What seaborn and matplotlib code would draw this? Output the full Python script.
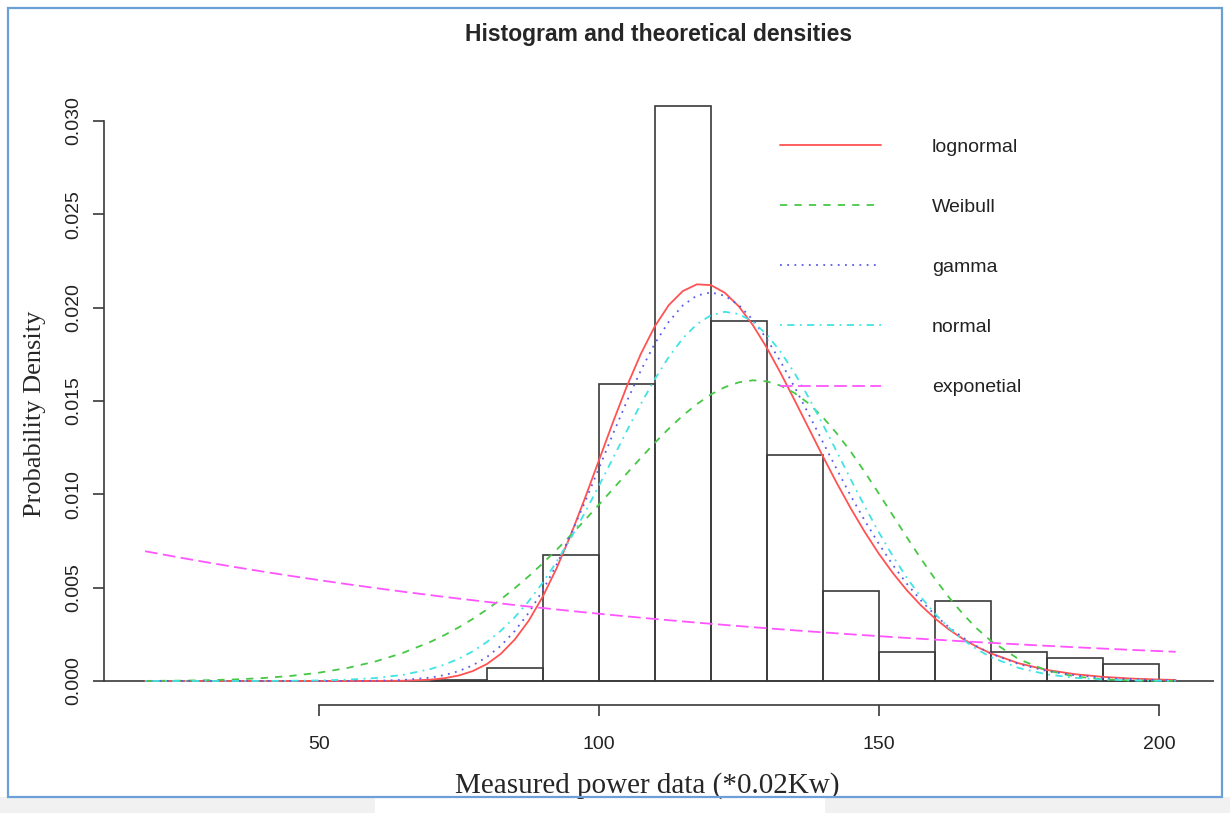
import matplotlib
matplotlib.use("Agg")
import matplotlib.pyplot as plt
from matplotlib.patches import Rectangle
import pandas as pd
import seaborn as sns

################## Dados ##################

# histograma (densidade por classe de largura 10)
bin_edges = [70, 80, 90, 100, 110, 120, 130, 140, 150, 160, 170, 180, 190, 200]
bin_heights = [0.00003, 0.00068, 0.00675, 0.0159, 0.0308, 0.01927, 0.01209,
               0.00482, 0.00154, 0.0043, 0.00157, 0.00122, 0.00091]

# pontos das curvas teoricas
dens_x = [19, 25, 30, 35, 40, 45, 50, 55, 60, 65, 70,
          72.5, 75, 77.5, 80, 82.5, 85, 87.5, 90, 92.5, 95, 97.5, 100,
          102.5, 105, 107.5, 110, 112.5, 115, 117.5, 120, 122.5, 125, 127.5,
          130, 132.5, 135, 137.5, 140, 142.5, 145, 147.5, 150, 152.5, 155,
          157.5, 160, 162.5, 165, 167.5,
          170, 175, 180, 185, 190, 195, 200, 203]

lognormal_y = [0, 0, 0, 0, 0, 0, 0, 0, 0.000002, 0.000013, 0.000073,
               0.000152, 0.000294, 0.000531, 0.000904, 0.001453, 0.002222,
               0.003235, 0.00452, 0.00606, 0.00783, 0.00977, 0.0118,
               0.01384, 0.01578, 0.01752, 0.0190, 0.02014, 0.02089, 0.02125,
               0.02121, 0.0208, 0.02007, 0.01907, 0.01785, 0.01648, 0.01502,
               0.01353, 0.01204, 0.0106, 0.00924, 0.007976, 0.00682,
               0.005784, 0.00486, 0.004056, 0.003357, 0.002762, 0.002257,
               0.001832,
               0.001478, 0.000946, 0.000593, 0.000365, 0.000222, 0.000132,
               0.000078, 0.000056]

weibull_y = [0.000005, 0.000017, 0.00004, 0.000083, 0.000156, 0.000271,
             0.000443, 0.000691, 0.001036, 0.0015, 0.002105,
             0.002468, 0.002874, 0.003327, 0.003825, 0.004372, 0.00497,
             0.005615, 0.006306, 0.007036, 0.00781, 0.008613, 0.00944,
             0.01028, 0.01112, 0.01195, 0.01276, 0.01352, 0.01422, 0.01483,
             0.01535, 0.01574, 0.016, 0.01611, 0.01605, 0.01582, 0.01542,
             0.01486, 0.01413, 0.01326, 0.01228, 0.01119, 0.01004,
             0.008872, 0.0077, 0.006557, 0.00548, 0.004487, 0.003593,
             0.00281,
             0.00215, 0.001163, 0.000564, 0.000241, 0.00009, 0.000029,
             0.000008, 0.000004]

gamma_y = [0, 0, 0, 0, 0, 0, 0, 0.000002, 0.000012, 0.000052, 0.000184,
           0.000319, 0.00053, 0.00084, 0.00128, 0.001883, 0.00268,
           0.003658, 0.004855, 0.006258, 0.00785, 0.009567, 0.01138,
           0.01321, 0.01498, 0.01663, 0.01808, 0.01925, 0.02012, 0.02065,
           0.02082, 0.02064, 0.02014, 0.01935, 0.01832, 0.01709, 0.01572,
           0.01428, 0.0128, 0.01134, 0.00991, 0.008588, 0.00735,
           0.006217, 0.00521, 0.00432, 0.003546, 0.002884, 0.00233,
           0.001857,
           0.00147, 0.000902, 0.000535, 0.000306, 0.000171, 0.000094,
           0.00005, 0.000035]

normal_y = [0, 0, 0, 0.000002, 0.000004, 0.000012, 0.000029, 0.00007,
            0.000155, 0.000326, 0.000643,
            0.000882, 0.001193, 0.001588, 0.002083, 0.002688, 0.003416,
            0.004279, 0.005274, 0.006403, 0.007651, 0.009008, 0.01044,
            0.01192, 0.0134, 0.01484, 0.01617, 0.01736, 0.01836, 0.01911,
            0.01959, 0.01978, 0.01966, 0.01925, 0.01856, 0.01762, 0.01647,
            0.01517, 0.01375, 0.01228, 0.01079, 0.009346, 0.007967,
            0.00669, 0.00553, 0.004502, 0.00361, 0.002853, 0.002217,
            0.001697,
            0.00128, 0.000695, 0.000354, 0.00017, 0.000077, 0.000033,
            0.000013, 0.000008]

expo_y = [0.006952, 0.006622, 0.006358, 0.006106, 0.005863, 0.00563,
          0.005407, 0.005191, 0.004985, 0.004787, 0.004597,
          0.004504, 0.004414, 0.004326, 0.004239, 0.004154, 0.00407,
          0.003989, 0.003909, 0.00383, 0.003753, 0.003678, 0.003604,
          0.003532, 0.003461, 0.003392, 0.003323, 0.003257, 0.003191,
          0.003127, 0.003065, 0.003003, 0.002943, 0.002884, 0.002826,
          0.002769, 0.002713, 0.002659, 0.002606, 0.002553, 0.002502,
          0.002452, 0.002403, 0.002354, 0.002307, 0.002261, 0.002216,
          0.002171, 0.002127, 0.002085,
          0.002043, 0.001962, 0.001884, 0.001809, 0.001737, 0.001668,
          0.001602, 0.001564]

dist_names = ["lognormal", "Weibull", "gamma", "normal", "exponetial"]

################## Montagem da tabela ##################

curvas = pd.DataFrame({
    "x": dens_x * 5,
    "densidade": lognormal_y + weibull_y + gamma_y + normal_y + expo_y,
    "dist": [n for n in dist_names for _ in dens_x],
})

bin_mids = [(a + b) / 2 for a, b in zip(bin_edges[:-1], bin_edges[1:])]

cores = {
    "lognormal": "#ff5252",
    "Weibull": "#46c846",
    "gamma": "#5a5aee",
    "normal": "#40e4e4",
    "exponetial": "#ff55ff",
}
tracos = {
    "lognormal": "",
    "Weibull": (4, 4),
    "gamma": (1, 3),
    "normal": (1, 3, 4, 3),
    "exponetial": (7, 3),
}

################## Grafico ##################

sns.set_style("ticks")
plt.rcParams["font.family"] = ["Liberation Sans", "DejaVu Sans"]

fig = plt.figure(figsize=(12.3, 8.13), dpi=100)
ax = fig.add_axes([104 / 1230, 1 - 705 / 813, 1110 / 1230, 648 / 813])

sns.histplot(x=bin_mids, weights=bin_heights, bins=bin_edges, stat="count",
             fill=False, color="#3a3a3a", linewidth=1.2, ax=ax)

ax.axhline(0, color="#3a3a3a", linewidth=1.2, zorder=1)

sns.lineplot(data=curvas, x="x", y="densidade", hue="dist", style="dist",
             hue_order=dist_names, style_order=dist_names, palette=cores,
             dashes=tracos, linewidth=1.3, legend=False, ax=ax)

linhas = ax.get_lines()[-5:]
ax.legend(linhas, dist_names, loc="upper left",
          bbox_to_anchor=((780 - 104) / 1110, (705 - 138) / 648),
          frameon=False, fontsize=14, handlelength=5.2, handletextpad=2.6,
          labelspacing=2.19, borderpad=0, borderaxespad=0, labelcolor="#222222")

ax.set_xlim(11.66, 209.84)
ax.set_ylim(-0.001286, 0.03343)

ax.set_xticks([50, 100, 150, 200])
ax.set_yticks([0.0, 0.005, 0.010, 0.015, 0.020, 0.025, 0.030])
ax.set_yticklabels(["0.000", "0.005", "0.010", "0.015", "0.020", "0.025", "0.030"],
                   rotation=90, va="center")

ax.spines["left"].set_bounds(0, 0.030)
ax.spines["bottom"].set_bounds(50, 200)
for lado in ["top", "right"]:
    ax.spines[lado].set_visible(False)
for lado in ["left", "bottom"]:
    ax.spines[lado].set_color("#3a3a3a")
    ax.spines[lado].set_linewidth(1.2)

ax.tick_params(axis="both", length=8, width=1.2, color="#3a3a3a",
               labelsize=14, labelcolor="#222222")
ax.tick_params(axis="x", pad=14)
ax.tick_params(axis="y", pad=8)

ax.set_xlabel("Measured power data (*0.02Kw)", fontsize=21,
              family=["Liberation Serif", "DejaVu Serif"])
ax.set_ylabel("Probability Density", fontsize=19,
              family=["Liberation Serif", "DejaVu Serif"])
ax.xaxis.set_label_coords((647 - 104) / 1110, (705 - 786) / 648)
ax.yaxis.set_label_coords((35 - 104) / 1110, (705 - 414) / 648)
ax.xaxis.label.set_va("center")
ax.yaxis.label.set_va("center")

fig.text(659 / 1230, 1 - 34 / 813, "Histogram and theoretical densities",
         ha="center", va="center", fontsize=16.5, fontweight="bold",
         family=["Liberation Sans Narrow", "Liberation Sans", "DejaVu Sans"])

# moldura da captura de tela
fig.add_artist(Rectangle((0, 0), 375 / 1230, 16 / 813, transform=fig.transFigure,
                         facecolor="#f1f1f1", edgecolor="none"))
fig.add_artist(Rectangle((825 / 1230, 0), 405 / 1230, 16 / 813,
                         transform=fig.transFigure, facecolor="#f1f1f1",
                         edgecolor="none"))
fig.add_artist(Rectangle((8 / 1230, 16 / 813), 1214 / 1230, 789 / 813,
                         transform=fig.transFigure, facecolor="none",
                         edgecolor="#6a9fd8", linewidth=1.6))

fig.savefig("out.png", dpi=100)
plt.close(fig)
